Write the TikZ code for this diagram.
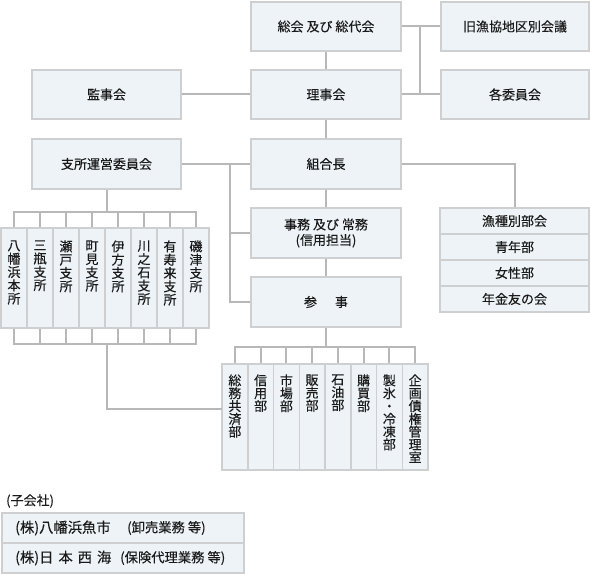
\documentclass[tikz,border=0pt]{standalone}
\usepackage{fontspec}
\setmainfont{Noto Sans CJK JP}[UprightFeatures={FakeBold=0.25}]
\definecolor{boxfill}{HTML}{EDF3F7}
\definecolor{boxline}{HTML}{CDCFD1}
\definecolor{conn}{HTML}{B8B8B8}
\definecolor{txt}{HTML}{1A1A1A}
\tikzset{
  box/.style={draw=boxline, fill=boxfill, line width=1.5pt, inner sep=0pt, text=txt,
    font=\fontsize{13}{15.5}\selectfont, align=center},
  bigbox/.style={box, minimum width=150pt, minimum height=49pt},
  rowbox/.style={box, minimum width=149pt, minimum height=26pt},
  brbox/.style={box, minimum width=26pt, minimum height=100pt},
  dpbox/.style={box, minimum width=25.75pt, minimum height=106pt},
  subbox/.style={box, minimum width=242pt, minimum height=30pt},
  vtext/.style={inner sep=0pt, text=txt, align=center, anchor=north,
    font=\fontsize{13}{13.3}\selectfont},
  conn/.style={draw=conn, line width=2pt},
  plain/.style={inner sep=0pt, text=txt, font=\fontsize{13}{15}\selectfont},
  subtext/.style={inner sep=0pt, text=txt, font=\fontsize{14.3}{16}\selectfont},
  small/.style={inner sep=0pt, text=txt, font=\fontsize{13.3}{15}\selectfont}
}
\begin{document}
\begin{tikzpicture}[x=1pt,y=-1pt]
\useasboundingbox (0,0) rectangle (590,575);
% main boxes
\node[bigbox] (soukai) at (326,26.5) {総会 及び 総代会};
\node[bigbox, minimum width=148pt] (kyu) at (515,26.5) {旧漁協地区別会議};
\node[bigbox, minimum width=149pt] (kansa) at (106.5,94.5) {監事会};
\node[bigbox] (riji) at (326,94.5) {理事会};
\node[bigbox, minimum width=148pt] (kakuiin) at (515,94.5) {各委員会};
\node[bigbox, minimum width=149pt, minimum height=50pt] (shisho) at (106.5,164) {支所運営委員会};
\node[bigbox, minimum height=50pt] (kumiai) at (326,164) {組合長};
\node[bigbox, minimum height=50pt] (jimu) at (326,233) {事務 及び 常務\\(信用担当)};
\node[bigbox, minimum height=50pt] (sanji) at (326,302) {参\hspace{18pt}事};
% right stack
\node[rowbox] (r1) at (514.5,221) {漁種別部会};
\node[rowbox] (r2) at (514.5,247) {青年部};
\node[rowbox] (r3) at (514.5,273) {女性部};
\node[rowbox] (r4) at (514.5,299) {年金友の会};
% branches
\foreach \i/\t in {1/{八\\幡\\浜\\本\\所},2/{三\\瓶\\支\\所},3/{瀬\\戸\\支\\所},4/{町\\見\\支\\所},
                   5/{伊\\方\\支\\所},6/{川\\之\\石\\支\\所},7/{有\\寿\\来\\支\\所},8/{磯\\津\\支\\所}}{
  \node[brbox] (b\i) at ({14+26*(\i-1)},278) {};
  \node[vtext] (bt\i) at ([yshift=-13pt]b\i.north) {\t};
}
% departments
\foreach \i/\t in {1/{総\\務\\共\\済\\部},2/{信\\用\\部},3/{市\\場\\部},4/{販\\売\\部},
                   5/{石\\油\\部},6/{購\\買\\部},7/{製\\氷\\・\\冷\\凍\\部},8/{企\\画\\債\\権\\管\\理\\室}}{
  \node[dpbox] (d\i) at ({222+12.875+25.75*(\i-1)},417) {};
  \node[vtext, font=\fontsize{13}{12.8}\selectfont] (dt\i) at ([yshift=-11pt]d\i.north) {\t};
}
% subsidiaries
\node[plain, anchor=west] (kogaisha) at (6,501) {(子会社)};
\node[subbox] (s1) at (123,528) {};
\node[subbox] (s2) at (123,558) {};
\node[subtext, anchor=west] (s1a) at (15,528) {(株)八幡浜魚市};
\node[small, anchor=west] (s1b) at (127,528) {(卸売業務 等)};
\node[subtext, anchor=west] (s2a) at (15,558) {(株)日\hspace{0.35em}本\hspace{0.35em}西\hspace{0.35em}海};
\node[small, anchor=west] (s2b) at (120,558) {(保険代理業務 等)};
% connectors
\coordinate (jA) at (420,26.5);
\coordinate (jB) at (420,94.5);
\draw[conn] (soukai) -- (riji);
\draw[conn] (soukai.east) -- (kyu.west);
\draw[conn] (riji.east) -- (kakuiin.west);
\draw[conn] (jA) -- (jB);
\draw[conn] (kansa.east) -- (riji.west);
\draw[conn] (riji) -- (kumiai);
\draw[conn] (kumiai) -- (jimu);
\draw[conn] (jimu) -- (sanji);
\draw[conn] (shisho.east) -- (kumiai.west);
\coordinate (v1) at (230,164);
\draw[conn] (v1) |- (sanji.west);
\draw[conn] (v1 |- jimu.west) -- (jimu.west);
\draw[conn] (kumiai.east) -| (r1.north);
% branch buses
\coordinate (btop) at (106.5,212);
\coordinate (bbot) at (106.5,344);
\draw[conn] (shisho.south) -- (btop);
\draw[conn] (b1.north) -- (b1.north |- btop) -- (b8.north |- btop) -- (b8.north);
\draw[conn] (b1.south) -- (b1.south |- bbot) -- (b8.south |- bbot) -- (b8.south);
\foreach \i in {2,...,7}{
  \draw[conn] (b\i.north) -- (b\i.north |- btop);
  \draw[conn] (b\i.south) -- (b\i.south |- bbot);
}
\coordinate (dleft) at (222,409);
\draw[conn] (bbot) |- (dleft);
% department bus
\coordinate (dtop) at (326,347);
\draw[conn] (sanji.south) -- (dtop);
\draw[conn] (d1.north) -- (d1.north |- dtop) -- (d8.north |- dtop) -- (d8.north);
\foreach \i in {2,...,7}{
  \draw[conn] (d\i.north) -- (d\i.north |- dtop);
}
\end{tikzpicture}
\end{document}
